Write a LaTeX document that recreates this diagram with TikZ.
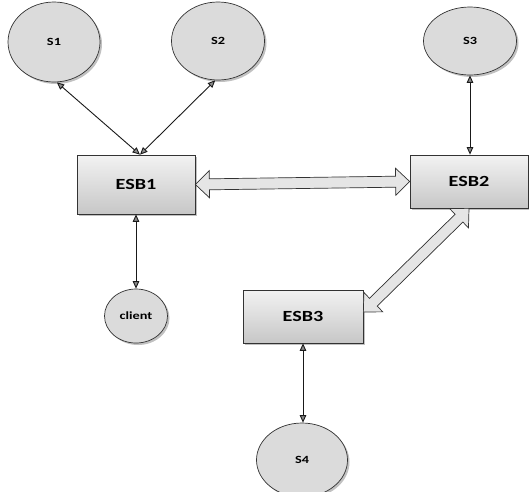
\documentclass[tikz,border=0pt]{standalone}
\usepackage{fontspec}
\newfontfamily\diagfont{Carlito}[FakeStretch=1.3]
\usetikzlibrary{calc,arrows.meta,shapes.geometric,shadows}
\tikzset{
	shade box/.style={drop shadow={shadow xshift=2pt, shadow yshift=-2pt, fill=black!35, opacity=0.7}},
	service/.style={ellipse, draw=black!80, line width=0.7pt, fill=black!14, shade box, font=\diagfont\bfseries\fontsize{11}{13}\selectfont},
	esbbox/.style={rectangle, draw=black!80, line width=0.7pt, top color=black!5, bottom color=black!22, shade box, font=\diagfont\bfseries\fontsize{15.5}{18}\selectfont},
	link/.style={line width=0.9pt, draw=black!90, {Triangle[fill=black!45, length=7.5pt, width=6.5pt]}-{Triangle[fill=black!45, length=7.5pt, width=6.5pt]}},
	fatarr/.style={draw=black!80, line width=0.7pt, fill=black!10},
	fatshadow/.style={fill=black!35, opacity=0.7}
}
% hollow double block arrow between two points
\def\fatpath(#1)(#2){
	($(#1)!14pt!(#2)$) coordinate (h1) ($(#2)!14pt!(#1)$) coordinate (h2)
	(#1) -- ($(h1)!13.5pt!90:(#2)$) -- ($(h1)!5.5pt!90:(#2)$) -- ($(h2)!5.5pt!-90:(#1)$) -- ($(h2)!13.5pt!-90:(#1)$)
	-- (#2) -- ($(h2)!13.5pt!90:(#1)$) -- ($(h2)!5.5pt!90:(#1)$) -- ($(h1)!5.5pt!-90:(#2)$) -- ($(h1)!13.5pt!-90:(#2)$) -- cycle
}
\def\fatarrow(#1)(#2){
	\path[fatshadow, xshift=2pt, yshift=-2pt] \fatpath(#1)(#2);
	\path[fatarr] \fatpath(#1)(#2);
}

\begin{document}
\begin{tikzpicture}[x=1pt, y=-1pt]
			%%%%% START %%%%%
			\useasboundingbox (0, 0) rectangle (529, 491);
			
			\node[service, minimum width=92, minimum height=80] (s1) at (54, 42) {S1};
			\node[service, minimum width=93, minimum height=78] (s2) at (218, 41) {S2};
			\node[service, minimum width=93, minimum height=68] (s3) at (470, 41) {S3};
			\node[service, minimum width=63, minimum height=54] (client) at (136, 316) {client};
			\node[service, minimum width=91, minimum height=74] (s4) at (302, 460) {S4};
			
			\node[esbbox, minimum width=118, minimum height=59] (esb1) at (136, 184.5) {ESB1};
			\node[esbbox, minimum width=118, minimum height=53] (esb2) at (469, 181.5) {ESB2};
			\node[esbbox, minimum width=120, minimum height=53] (esb3) at (303, 316.5) {ESB3};
			
			\draw[link] (s1.-86) -- ($(esb1.north)+(4, 0)$);
			\draw[link] (s2.-94) -- ($(esb1.north)+(4, 0)$);
			\draw[link] (esb1.south) -- (client.north);
			\draw[link] (s3.south) -- (esb2.north -| s3.south);
			\draw[link] (esb3.south) -- (s4.north -| esb3.south);
			
			\coordinate (e3tip) at ($(esb3.east)+(0, -4.5)$);
			\fatarrow(esb1.east)(esb2.west)
			\fatarrow(e3tip)(esb2.south)
			
			%%%%% END %%%%%
		\end{tikzpicture}
\end{document}
